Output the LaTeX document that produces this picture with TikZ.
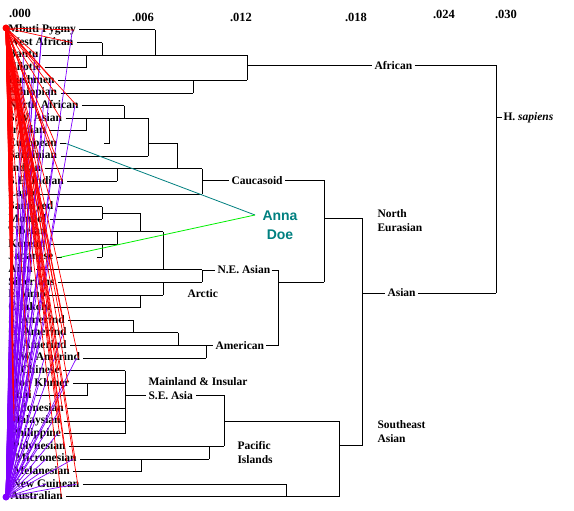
\documentclass[tikz,border=0pt]{standalone}
\usepackage{fontspec}
\setmainfont{Liberation Serif}
\newfontfamily\annafont{Liberation Sans}
\definecolor{tealc}{RGB}{0,128,128}
\definecolor{greenc}{RGB}{0,240,0}
\definecolor{purpc}{RGB}{128,0,255}
\definecolor{redc}{RGB}{255,0,0}
\newcommand\RY[1]{{30+(#1-1)*12.62}}
\begin{document}
\begin{tikzpicture}[x=1pt,y=-1pt,line width=1pt,
  lab/.style={font=\fontsize{11.5}{14}\selectfont\bfseries, inner sep=0pt, anchor=west, text height=8pt, text depth=2.5pt},
  grp/.style={font=\fontsize{11.5}{14}\selectfont\bfseries, inner sep=0pt, anchor=west, align=left},
  axl/.style={font=\fontsize{12.5}{14}\selectfont\bfseries, inner sep=0pt},
  tree/.style={draw=black, line width=1pt},
  redl/.style={draw=redc, line width=0.7pt},
  purl/.style={draw=purpc, line width=0.7pt}]
\useasboundingbox (0,0) rectangle (574,511);
\fill[white] (0,0) rectangle (574,511);
% axis labels
\node[axl] (a0) at (20,13) {.000};
\node[axl] (a1) at (143,17) {.006};
\node[axl] (a2) at (241,17) {.012};
\node[axl] (a3) at (356,17) {.018};
\node[axl] (a4) at (444,14) {.024};
\node[axl] (a5) at (506,14) {.030};
% leaves
\foreach \i/\t/\lx in {1/Mbuti Pygmy/8,2/West African/8,3/Bantu/8,4/Nilotic/8,5/Bushmen/8,6/Ethiopian/8,
 7/North African/8,8/S.W. Asian/8,9/Iranian/8,10/European/8,11/Sardinian/8,12/Indian/8,13/S.E. Indian/8,
 14/Lapp/8,15/Samoyed/8,16/Mongol/8,17/Tibetan/8,18/Korean/8,19/Japanese/8,20/Ainu/8,21/Siberians/8,
 22/Eskimo/8,23/Chukchi/8,24/S. Amerind/8,25/C. Amerind/8,26/N. Amerind/8,27/N.W. Amerind/8,
 28/S. Chinese/8,29/Mon Khmer/8,30/Thai/8,31/Indonesian/9,32/Malaysian/9,33/Philippine/10,
 34/Polynesian/12,35/Micronesian/15,36/Melanesian/13,37/New Guinean/12,38/Australian/10}
 {\node[lab] (l\i) at (\lx,\RY{\i}) {\t};}
% leaf branches
\foreach \i/\m in {1/155,2/102,3/247,4/86,5/247,6/193,7/124,8/148,9/86,11/148,12/202,13/117,14/202,
 15/102,16/102,17/163,18/117,20/202,21/202,22/163,23/140,24/133,25/178,26/213,27/206,28/125,29/125,
 30/87,31/125,32/125,33/125,34/224,35/209,36/141,37/286,38/339}
 {\draw[tree] ([xshift=3pt]l\i.east) -- (\m,\RY{\i});}
\draw[tree] ([xshift=3pt]l10.east) -- ++(6,0);
\draw[tree] ([xshift=3pt]l19.east) -- ++(5,0);
\draw[tree] (104,\RY{10}) -- (109,\RY{10});
\draw[tree] (97,\RY{19}) -- (102,\RY{19});
% verticals
\draw[tree] (155,\RY{1}) -- (155,\RY{3});
\draw[tree] (102,\RY{2}) -- (102,\RY{3});
\draw[tree] (86,\RY{3}) -- (86,\RY{4});
\draw[tree] (247,\RY{3}) -- (247,\RY{5});
\draw[tree] (193,\RY{5}) -- (193,\RY{6});
\draw[tree] (124,\RY{7}) -- (124,\RY{8});
\draw[tree] (86,\RY{8}) -- (86,\RY{9});
\draw[tree] (109,\RY{8}) -- (109,\RY{10});
\draw[tree] (148,\RY{8}) -- (148,\RY{11});
\draw[tree] (148,\RY{10}) -- (177,\RY{10}) -- (177,\RY{12});
\draw[tree] (117,\RY{12}) -- (117,\RY{13});
\draw[tree] (202,\RY{12}) -- (202,\RY{14});
\draw[tree] (102,\RY{15}) -- (102,\RY{16});
\draw[tree] (102,213) -- (140,213) -- (140,\RY{17});
\draw[tree] (117,\RY{17}) -- (117,\RY{18});
\draw[tree] (102,\RY{18}) -- (102,\RY{19});
\draw[tree] (163,\RY{17}) -- (163,\RY{20});
\draw[tree] (202,\RY{20}) -- (202,\RY{21});
\draw[tree] (163,\RY{21}) -- (163,\RY{22});
\draw[tree] (140,\RY{22}) -- (140,\RY{23});
\draw[tree] (133,\RY{24}) -- (133,\RY{25});
\draw[tree] (178,\RY{25}) -- (178,\RY{26});
\draw[tree] (206,\RY{26}) -- (206,\RY{27});
\draw[tree] (87,\RY{29}) -- (87,\RY{30});
\draw[tree] (125,\RY{28}) -- (125,\RY{33});
\draw[tree] (209,\RY{34}) -- (209,\RY{35});
\draw[tree] (141,\RY{35}) -- (141,\RY{36});
\draw[tree] (286,\RY{37}) -- (286,\RY{38});
% group labels
\node[grp] (afr) at (374,66) {African};
\node[grp] (cau) at (231,181) {Caucasoid};
\node[grp] (nea) at (217,270) {N.E. Asian};
\node[grp] (arc) at (187,294) {Arctic};
\node[grp] (ame) at (215,\RY{26}) {American};
\node[grp] (neu) at (377,221) {North\\Eurasian};
\node[grp] (asi) at (387,293) {Asian};
\node[grp] (hs) at (503,118) {H. \textit{sapiens}};
\node[grp] (mai) at (148,389) {Mainland \& Insular\\S.E. Asia};
\node[grp] (pac) at (237,453) {Pacific\\Islands};
\node[grp] (sea) at (377,432) {Southeast\\Asian};
% internal connectors
\coordinate (jAfr) at (247,66);
\coordinate (jRoot) at (496,66);
\coordinate (jRootB) at (496,293);
\draw[tree] (jAfr) -- ([xshift=-2pt]afr.west);
\draw[tree] ([xshift=2pt]afr.east) -- (jRoot) -- (jRootB);
\draw[tree] (496,118) -- ([xshift=-1pt]hs.west);
\coordinate (jCau) at (202,181);
\coordinate (jNEu) at (324,181);
\coordinate (jNEuB) at (324,282);
\draw[tree] (jCau) -- ([xshift=-2pt]cau.west);
\draw[tree] ([xshift=2pt]cau.east) -- (jNEu) -- (jNEuB);
\coordinate (jNEA) at (202,270);
\coordinate (jNEAr) at (278,270);
\coordinate (jAme) at (278,\RY{26});
\draw[tree] (jNEA) -- ([xshift=-2pt]nea.west);
\draw[tree] ([xshift=1pt]nea.east) -- (jNEAr) -- (jAme) -- ([xshift=1pt]ame.east);
\draw[tree] (278,282) -- (jNEuB);
\coordinate (jAsi) at (362,218);
\coordinate (jAsiB) at (362,445);
\draw[tree] (324,218) -- (jAsi) -- (jAsiB) -- (339,445);
\draw[tree] (362,293) -- ([xshift=-2pt]asi.west);
\draw[tree] ([xshift=2pt]asi.east) -- (jRootB);
\coordinate (jMai) at (224,\RY{30});
\draw[tree] (125,\RY{30}) -- (146,\RY{30});
\draw[tree] (196,\RY{30}) -- (jMai) -- (224,\RY{34});
\draw[tree] (224,421) -- (339,421) -- (339,\RY{38});
% Anna Doe
\node[font=\annafont\fontsize{14}{19}\selectfont\bfseries, text=tealc, align=center, inner sep=0pt] (ad) at (280,225) {Anna\\Doe};
\coordinate (adp) at (255,215);
\draw[tealc, line width=0.8pt] ([xshift=9pt]l10.east) -- (adp);
\draw[greenc, line width=0.8pt] ([xshift=7pt]l19.east) -- (adp);
% overlay lines
\coordinate (T) at (6,28);
\coordinate (B) at (6,497);
\foreach \i in {1,...,38} {\draw[purl] (B) -- (l\i.center);}
\foreach \i in {1,3,...,37} {\draw[purl] (B) -- ([xshift=-4pt]l\i.east);}
\foreach \i in {14,...,38} {\draw[purl] (B) -- ([xshift=4pt]l\i.west);}
\foreach \i in {1,...,38} {\draw[redl] (T) -- ([xshift=-2pt]l\i.east);}
\foreach \i in {1,...,32} {\draw[redl] (T) -- ([xshift=5pt]l\i.west);}
\fill[redc] (T) circle (3.5);
\fill[purpc] (B) circle (3.5);
\end{tikzpicture}
\end{document}
